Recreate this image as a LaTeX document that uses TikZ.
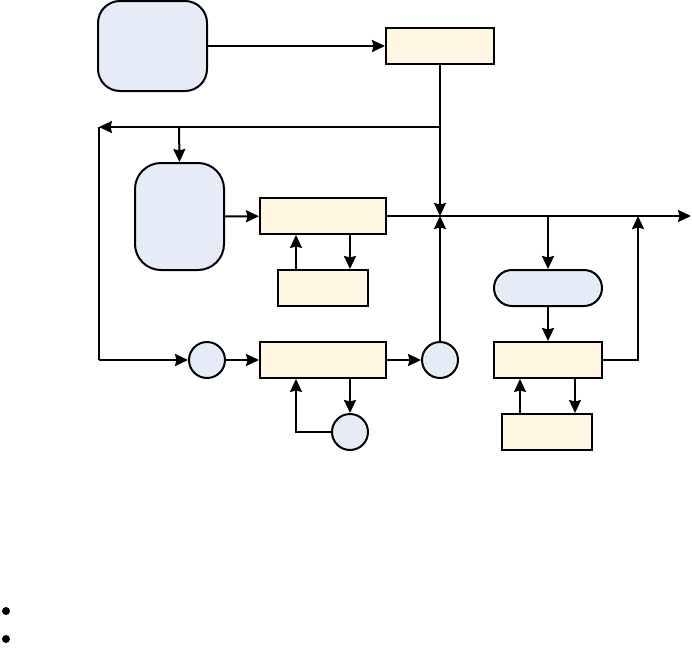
\documentclass[tikz,border=0pt]{standalone}
\usetikzlibrary{arrows.meta, positioning, calc}
\definecolor{cblue}{HTML}{E6ECF7}
\definecolor{ccream}{HTML}{FFF7E1}
\definecolor{cline}{HTML}{000000}
\tikzset{
  every picture/.style={line width=2pt, x=1pt, y=-1pt},
  block/.style={draw=cline, fill=ccream, minimum width=#1, minimum height=36pt, inner sep=0pt},
  block/.default=126pt,
  soft/.style={draw=cline, fill=cblue, rounded corners=#1, inner sep=0pt},
  soft/.default=20pt,
  dot/.style={draw=cline, fill=cblue, circle, minimum size=36pt, inner sep=0pt},
  bullet/.style={fill=black, circle, minimum size=8pt, inner sep=0pt},
  arrow/.style={-{Stealth[length=13pt, width=12pt, inset=1.5pt]}, draw=cline},
}

\begin{document}
\begin{tikzpicture}
  \useasboundingbox (0,0) rectangle (692,653);
  % top row
  \node[soft=22pt, minimum width=109pt, minimum height=90pt] (src) at (152.5,46) {};
  \node[block=108pt] (tx) at (440,46) {};
  % middle row
  \node[soft=26pt, minimum width=89pt, minimum height=107pt] (pre) at (179.5,216.5) {};
  \node[block] (mix) at (323,216) {};
  \node[block=90pt] (aux) at (323,288) {};
  % bottom row
  \node[dot] (sumA) at (207,360) {};
  \node[block] (lp) at (323,360) {};
  \node[dot] (sumB) at (440,360) {};
  \node[dot] (fb) at (350,432) {};
  % right branch
  \node[soft=18pt, minimum width=108pt, minimum height=36pt] (cls) at (548,288) {};
  \node[block=108pt] (dec) at (548,360) {};
  \node[block=90pt] (mem) at (547,432) {};
  % list marks
  \node[bullet] (b1) at (6,611) {};
  \node[bullet] (b2) at (6,639) {};

  \coordinate (tl) at (440,127);
  \coordinate (corner) at (99,127);
  \coordinate (br) at (179,127);
  \coordinate (lc) at (99,360);
  \coordinate (jn) at (440,216);
  \coordinate (tap) at (548,216);
  \coordinate (jn2) at (638,216);
  \coordinate (out) at (691,216);

  \draw[arrow] (src) -- (tx);
  \draw[arrow] (tx.south) -- (jn);
  \draw[arrow] (tl) -- (corner);
  \draw[arrow] (br) -- (pre.north);
  \draw (corner) -- (lc);
  \draw[arrow] (lc) -- (sumA);
  \draw[arrow] (pre) -- (mix);
  \draw[arrow] (mix.east) -- (out);
  \draw[arrow] ([xshift=-27pt]aux.north) -- ([xshift=-27pt]mix.south);
  \draw[arrow] ([xshift=27pt]mix.south) -- ([xshift=27pt]aux.north);
  \draw[arrow] (sumA) -- (lp);
  \draw[arrow] (lp) -- (sumB);
  \draw[arrow] (sumB) -- (jn);
  \draw[arrow] ([xshift=27pt]lp.south) -- (fb.north);
  \draw[arrow] (fb.west) -| ([xshift=-27pt]lp.south);
  \draw[arrow] (tap) -- (cls.north);
  \draw[arrow] (cls) -- (dec);
  \draw[arrow] (dec.east) -| (jn2);
  \draw[arrow] ([xshift=-27pt]mem.north) -- ([xshift=-28pt]dec.south);
  \draw[arrow] ([xshift=27pt]dec.south) -- ([xshift=28pt]mem.north);
\end{tikzpicture}
\end{document}
